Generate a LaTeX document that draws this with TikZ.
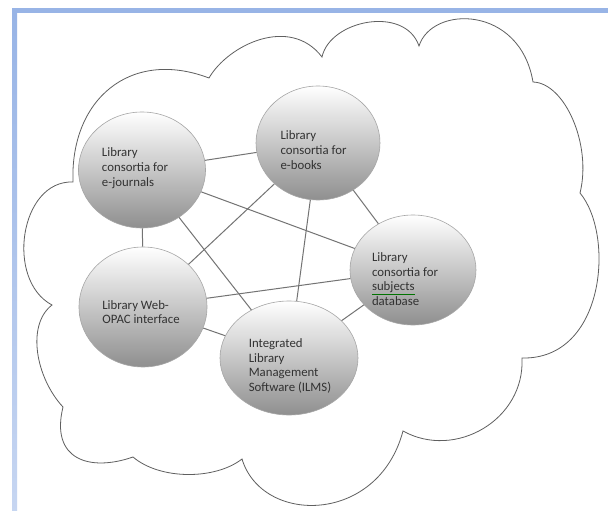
\documentclass[tikz,border=0pt]{standalone}
\usepackage{fontspec}
\setmainfont{Carlito}
\usetikzlibrary{shapes.geometric}
\definecolor{frameblue}{RGB}{152,180,230}
\definecolor{edgegray}{RGB}{115,115,115}
\definecolor{cloudgray}{RGB}{95,95,95}
\definecolor{textgray}{RGB}{50,50,50}
\tikzstyle{bubble} = [ ellipse, draw=black!35, line width=0.6pt, top color=white, middle color=black!8, bottom color=black!44, inner sep=0pt]
\tikzstyle{bubbletext} = [ align=left, text=textgray, font=\fontsize{12.8}{14.7}\selectfont, inner sep=0pt]
\tikzstyle{line} = [ draw, edgegray, line width=1pt]

\begin{document}
\begin{tikzpicture}[x=1pt, y=-1pt]
  \useasboundingbox (0,0) rectangle (608,511);
  \fill[white] (0,0) rectangle (608,511);

  % window frame
  \fill[frameblue] (12,8) rectangle (608,13);
  \shade[top color=frameblue, bottom color=frameblue!55] (12,13) rectangle (17,511);

  % cloud
  \draw[cloudgray, line width=0.8pt] (73,182)
    .. controls (70,100) and (130,48) .. (209,78)
    .. controls (228,45) and (290,15) .. (322,57)
    .. controls (330,20) and (405,5) .. (419,46)
    .. controls (432,5) and (520,5) .. (533,82)
    .. controls (565,83) and (592,145) .. (580,193)
    .. controls (615,235) and (605,360) .. (522,358)
    .. controls (525,420) and (455,460) .. (403,431)
    .. controls (378,525) and (262,525) .. (242,459)
    .. controls (215,480) and (160,480) .. (133,457)
    .. controls (90,472) and (50,460) .. (63,407)
    .. controls (36,378) and (26,325) .. (52,305)
    .. controls (5,280) and (20,180) .. (73,182) -- cycle;

  \node [bubble, minimum width=127pt, minimum height=116pt] (ejournals) at (142,170) {};
  \node [bubble, minimum width=124pt, minimum height=114pt] (ebooks) at (318,143) {};
  \node [bubble, minimum width=126pt, minimum height=110pt] (subjects) at (413,270) {};
  \node [bubble, minimum width=128pt, minimum height=120pt] (webopac) at (143,307) {};
  \node [bubble, minimum width=138pt, minimum height=114pt] (ilms) at (289,358) {};

  \node [bubbletext] (ejournals_txt) at ([shift={(-7,-2)}]ejournals.center) {Library\\consortia for\\e-journals};
  \node [bubbletext] (ebooks_txt) at ([shift={(-4.5,7)}]ebooks.center) {Library\\consortia for\\e-books};
  \node [bubbletext] (subjects_txt) at ([shift={(-8,9)}]subjects.center) {Library\\consortia for\\{\color{green!45!black}\underline{\textcolor{textgray}{subjects}}}\\database};
  \node [bubbletext] (webopac_txt) at ([shift={(-2,5)}]webopac.center) {Library Web-\\OPAC interface};
  \node [bubbletext] (ilms_txt) at ([shift={(1,8)}]ilms.center) {Integrated\\Library\\Management\\Software (ILMS)};

  \path [line] (ejournals) -- (ebooks);
  \path [line] (ejournals) -- (webopac);
  \path [line] (ejournals) -- (subjects);
  \path [line] (ejournals) -- (ilms);
  \path [line] (ebooks) -- (webopac);
  \path [line] (ebooks) -- (ilms);
  \path [line] (ebooks) -- (subjects);
  \path [line] (webopac) -- (subjects);
  \path [line] (webopac) -- (ilms);
  \path [line] (ilms) -- (subjects);
\end{tikzpicture}
\end{document}
